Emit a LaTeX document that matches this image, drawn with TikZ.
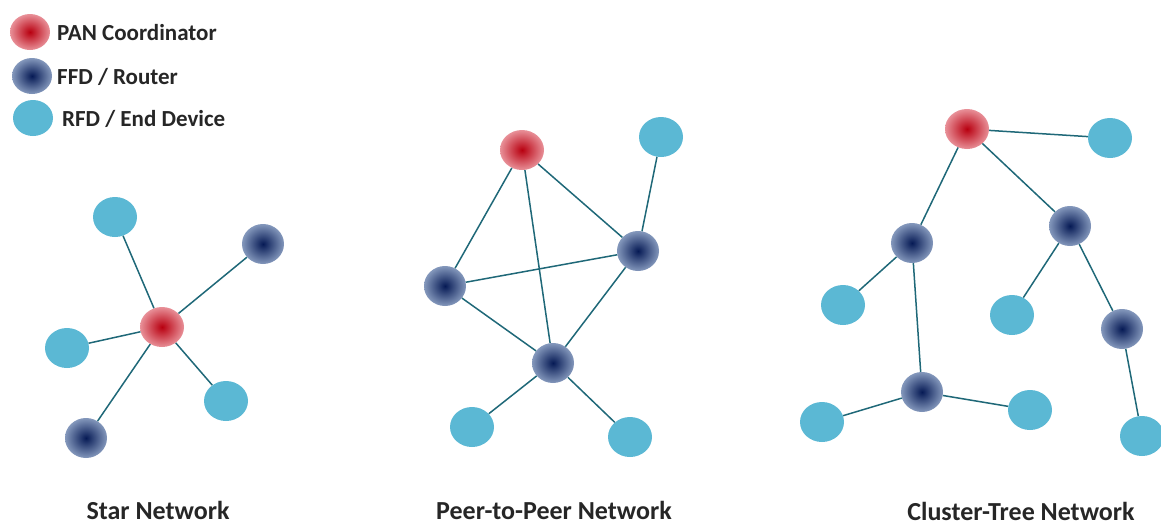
\documentclass[tikz,border=0pt]{standalone}
\usepackage{fontspec}
\setmainfont{Carlito}
\usetikzlibrary{shapes.geometric}
\definecolor{rfdc}{HTML}{5BB8D4}
\definecolor{edgec}{HTML}{1F6878}
\definecolor{ffdin}{HTML}{061A55}
\definecolor{ffdout}{HTML}{8498BC}
\definecolor{panin}{HTML}{B80010}
\definecolor{panout}{HTML}{E89098}
\tikzset{
  rfd/.style={ellipse, fill=rfdc, minimum width=44pt, minimum height=40pt, inner sep=0pt},
  ffd/.style={ellipse, shading=radial, inner color=ffdin, outer color=ffdout, minimum width=42pt, minimum height=40pt, inner sep=0pt},
  pan/.style={ellipse, shading=radial, inner color=panin, outer color=panout, minimum width=44pt, minimum height=40pt, inner sep=0pt},
  link/.style={draw=edgec, line width=1.5pt},
  lbl/.style={font=\fontsize{26}{30}\selectfont\bfseries, text=black!85, inner sep=0pt, anchor=base},
  leg/.style={font=\fontsize{23}{27}\selectfont\bfseries, text=black!85, inner sep=0pt, anchor=west}
}
\begin{document}
\begin{tikzpicture}[x=1pt,y=-1pt]
\useasboundingbox (0,0) rectangle (1161,525);
% legend
\node[pan, minimum width=40pt, minimum height=36pt] (lp) at (30,32) {};
\node[ffd, minimum width=40pt, minimum height=36pt] (lf) at (32,76) {};
\node[rfd, minimum width=40pt, minimum height=36pt] (lr) at (33,118) {};
\node[leg] (tp) at (57,33) {PAN Coordinator};
\node[leg] (tf) at (57,77) {FFD / Router};
\node[leg] (tr) at (62,119) {RFD / End Device};
% star
\node[pan] (sc) at (162,327) {};
\node[rfd] (s1) at (115,217) {};
\node[ffd] (s2) at (263,244) {};
\node[rfd] (s3) at (67,348) {};
\node[rfd] (s4) at (226,401) {};
\node[ffd] (s5) at (86,438) {};
\foreach \n in {s1,s2,s3,s4,s5} \draw[link] (sc) -- (\n);
% peer to peer
\node[pan] (pc) at (522,150) {};
\node[rfd] (p1) at (661,137) {};
\node[ffd] (p2) at (638,251) {};
\node[ffd] (p3) at (445,286) {};
\node[ffd] (p4) at (553,363) {};
\node[rfd] (p5) at (472,427) {};
\node[rfd] (p6) at (630,437) {};
\draw[link] (pc) -- (p3);
\draw[link] (pc) -- (p2);
\draw[link] (pc) -- (p4);
\draw[link] (p2) -- (p1);
\draw[link] (p3) -- (p2);
\draw[link] (p3) -- (p4);
\draw[link] (p2) -- (p4);
\draw[link] (p4) -- (p5);
\draw[link] (p4) -- (p6);
% cluster tree
\node[pan] (cc) at (967,129) {};
\node[rfd] (c1) at (1110,138) {};
\node[ffd] (c2) at (1070,226) {};
\node[ffd] (c3) at (912,243) {};
\node[rfd] (c4) at (843,305) {};
\node[rfd] (c5) at (1012,315) {};
\node[ffd] (c6) at (1122,329) {};
\node[ffd] (c7) at (922,392) {};
\node[rfd] (c8) at (822,422) {};
\node[rfd] (c9) at (1030,410) {};
\node[rfd] (c10) at (1142,436) {};
\draw[link] (cc) -- (c1);
\draw[link] (cc) -- (c2);
\draw[link] (cc) -- (c3);
\draw[link] (c2) -- (c5);
\draw[link] (c2) -- (c6);
\draw[link] (c6) -- (c10);
\draw[link] (c3) -- (c4);
\draw[link] (c3) -- (c7);
\draw[link] (c7) -- (c8);
\draw[link] (c7) -- (c9);
% titles
\node[lbl] (t1) at (158,519) {Star Network};
\node[lbl] (t2) at (554,519) {Peer-to-Peer Network};
\node[lbl] (t3) at (1021,520) {Cluster-Tree Network};
\end{tikzpicture}
\end{document}
